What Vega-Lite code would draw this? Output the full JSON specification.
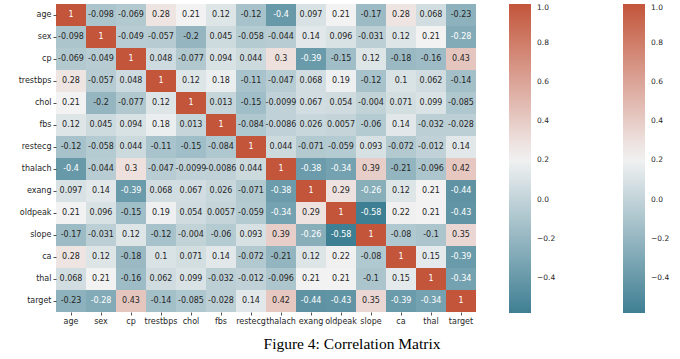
{
  "$schema": "https://vega.github.io/schema/vega-lite/v6.json",
  "width": 420,
  "height": 308,
  "autosize": {"type": "none"},
  "padding": {"left": 56, "top": 4, "right": 204, "bottom": 47},
  "background": "white",
  "config": {
    "view": {"stroke": null},
    "axis": {"domain": false, "ticks": true, "tickSize": 3, "tickColor": "#262626", "tickWidth": 0.8, "labelFont": "DejaVu Sans", "labelFontSize": 8, "labelColor": "#262626", "labelPadding": 2, "title": null},
    "legend": {"labelFont": "DejaVu Sans", "labelFontSize": 7.5, "labelColor": "#262626"}
  },
  "title": {"text": "Figure 4: Correlation Matrix", "orient": "bottom", "anchor": "middle", "font": "Liberation Serif", "fontSize": 15.5, "fontWeight": "normal", "color": "#000000", "dx": 86, "offset": 12},
  "data": {"values": [
    {"r":"age","c":"age","v":1},{"r":"age","c":"sex","v":-0.098},{"r":"age","c":"cp","v":-0.069},{"r":"age","c":"trestbps","v":0.28},{"r":"age","c":"chol","v":0.21},{"r":"age","c":"fbs","v":0.12},{"r":"age","c":"restecg","v":-0.12},{"r":"age","c":"thalach","v":-0.4},{"r":"age","c":"exang","v":0.097},{"r":"age","c":"oldpeak","v":0.21},{"r":"age","c":"slope","v":-0.17},{"r":"age","c":"ca","v":0.28},{"r":"age","c":"thal","v":0.068},{"r":"age","c":"target","v":-0.23},
    {"r":"sex","c":"age","v":-0.098},{"r":"sex","c":"sex","v":1},{"r":"sex","c":"cp","v":-0.049},{"r":"sex","c":"trestbps","v":-0.057},{"r":"sex","c":"chol","v":-0.2},{"r":"sex","c":"fbs","v":0.045},{"r":"sex","c":"restecg","v":-0.058},{"r":"sex","c":"thalach","v":-0.044},{"r":"sex","c":"exang","v":0.14},{"r":"sex","c":"oldpeak","v":0.096},{"r":"sex","c":"slope","v":-0.031},{"r":"sex","c":"ca","v":0.12},{"r":"sex","c":"thal","v":0.21},{"r":"sex","c":"target","v":-0.28},
    {"r":"cp","c":"age","v":-0.069},{"r":"cp","c":"sex","v":-0.049},{"r":"cp","c":"cp","v":1},{"r":"cp","c":"trestbps","v":0.048},{"r":"cp","c":"chol","v":-0.077},{"r":"cp","c":"fbs","v":0.094},{"r":"cp","c":"restecg","v":0.044},{"r":"cp","c":"thalach","v":0.3},{"r":"cp","c":"exang","v":-0.39},{"r":"cp","c":"oldpeak","v":-0.15},{"r":"cp","c":"slope","v":0.12},{"r":"cp","c":"ca","v":-0.18},{"r":"cp","c":"thal","v":-0.16},{"r":"cp","c":"target","v":0.43},
    {"r":"trestbps","c":"age","v":0.28},{"r":"trestbps","c":"sex","v":-0.057},{"r":"trestbps","c":"cp","v":0.048},{"r":"trestbps","c":"trestbps","v":1},{"r":"trestbps","c":"chol","v":0.12},{"r":"trestbps","c":"fbs","v":0.18},{"r":"trestbps","c":"restecg","v":-0.11},{"r":"trestbps","c":"thalach","v":-0.047},{"r":"trestbps","c":"exang","v":0.068},{"r":"trestbps","c":"oldpeak","v":0.19},{"r":"trestbps","c":"slope","v":-0.12},{"r":"trestbps","c":"ca","v":0.1},{"r":"trestbps","c":"thal","v":0.062},{"r":"trestbps","c":"target","v":-0.14},
    {"r":"chol","c":"age","v":0.21},{"r":"chol","c":"sex","v":-0.2},{"r":"chol","c":"cp","v":-0.077},{"r":"chol","c":"trestbps","v":0.12},{"r":"chol","c":"chol","v":1},{"r":"chol","c":"fbs","v":0.013},{"r":"chol","c":"restecg","v":-0.15},{"r":"chol","c":"thalach","v":-0.0099},{"r":"chol","c":"exang","v":0.067},{"r":"chol","c":"oldpeak","v":0.054},{"r":"chol","c":"slope","v":-0.004},{"r":"chol","c":"ca","v":0.071},{"r":"chol","c":"thal","v":0.099},{"r":"chol","c":"target","v":-0.085},
    {"r":"fbs","c":"age","v":0.12},{"r":"fbs","c":"sex","v":0.045},{"r":"fbs","c":"cp","v":0.094},{"r":"fbs","c":"trestbps","v":0.18},{"r":"fbs","c":"chol","v":0.013},{"r":"fbs","c":"fbs","v":1},{"r":"fbs","c":"restecg","v":-0.084},{"r":"fbs","c":"thalach","v":-0.0086},{"r":"fbs","c":"exang","v":0.026},{"r":"fbs","c":"oldpeak","v":0.0057},{"r":"fbs","c":"slope","v":-0.06},{"r":"fbs","c":"ca","v":0.14},{"r":"fbs","c":"thal","v":-0.032},{"r":"fbs","c":"target","v":-0.028},
    {"r":"restecg","c":"age","v":-0.12},{"r":"restecg","c":"sex","v":-0.058},{"r":"restecg","c":"cp","v":0.044},{"r":"restecg","c":"trestbps","v":-0.11},{"r":"restecg","c":"chol","v":-0.15},{"r":"restecg","c":"fbs","v":-0.084},{"r":"restecg","c":"restecg","v":1},{"r":"restecg","c":"thalach","v":0.044},{"r":"restecg","c":"exang","v":-0.071},{"r":"restecg","c":"oldpeak","v":-0.059},{"r":"restecg","c":"slope","v":0.093},{"r":"restecg","c":"ca","v":-0.072},{"r":"restecg","c":"thal","v":-0.012},{"r":"restecg","c":"target","v":0.14},
    {"r":"thalach","c":"age","v":-0.4},{"r":"thalach","c":"sex","v":-0.044},{"r":"thalach","c":"cp","v":0.3},{"r":"thalach","c":"trestbps","v":-0.047},{"r":"thalach","c":"chol","v":-0.0099},{"r":"thalach","c":"fbs","v":-0.0086},{"r":"thalach","c":"restecg","v":0.044},{"r":"thalach","c":"thalach","v":1},{"r":"thalach","c":"exang","v":-0.38},{"r":"thalach","c":"oldpeak","v":-0.34},{"r":"thalach","c":"slope","v":0.39},{"r":"thalach","c":"ca","v":-0.21},{"r":"thalach","c":"thal","v":-0.096},{"r":"thalach","c":"target","v":0.42},
    {"r":"exang","c":"age","v":0.097},{"r":"exang","c":"sex","v":0.14},{"r":"exang","c":"cp","v":-0.39},{"r":"exang","c":"trestbps","v":0.068},{"r":"exang","c":"chol","v":0.067},{"r":"exang","c":"fbs","v":0.026},{"r":"exang","c":"restecg","v":-0.071},{"r":"exang","c":"thalach","v":-0.38},{"r":"exang","c":"exang","v":1},{"r":"exang","c":"oldpeak","v":0.29},{"r":"exang","c":"slope","v":-0.26},{"r":"exang","c":"ca","v":0.12},{"r":"exang","c":"thal","v":0.21},{"r":"exang","c":"target","v":-0.44},
    {"r":"oldpeak","c":"age","v":0.21},{"r":"oldpeak","c":"sex","v":0.096},{"r":"oldpeak","c":"cp","v":-0.15},{"r":"oldpeak","c":"trestbps","v":0.19},{"r":"oldpeak","c":"chol","v":0.054},{"r":"oldpeak","c":"fbs","v":0.0057},{"r":"oldpeak","c":"restecg","v":-0.059},{"r":"oldpeak","c":"thalach","v":-0.34},{"r":"oldpeak","c":"exang","v":0.29},{"r":"oldpeak","c":"oldpeak","v":1},{"r":"oldpeak","c":"slope","v":-0.58},{"r":"oldpeak","c":"ca","v":0.22},{"r":"oldpeak","c":"thal","v":0.21},{"r":"oldpeak","c":"target","v":-0.43},
    {"r":"slope","c":"age","v":-0.17},{"r":"slope","c":"sex","v":-0.031},{"r":"slope","c":"cp","v":0.12},{"r":"slope","c":"trestbps","v":-0.12},{"r":"slope","c":"chol","v":-0.004},{"r":"slope","c":"fbs","v":-0.06},{"r":"slope","c":"restecg","v":0.093},{"r":"slope","c":"thalach","v":0.39},{"r":"slope","c":"exang","v":-0.26},{"r":"slope","c":"oldpeak","v":-0.58},{"r":"slope","c":"slope","v":1},{"r":"slope","c":"ca","v":-0.08},{"r":"slope","c":"thal","v":-0.1},{"r":"slope","c":"target","v":0.35},
    {"r":"ca","c":"age","v":0.28},{"r":"ca","c":"sex","v":0.12},{"r":"ca","c":"cp","v":-0.18},{"r":"ca","c":"trestbps","v":0.1},{"r":"ca","c":"chol","v":0.071},{"r":"ca","c":"fbs","v":0.14},{"r":"ca","c":"restecg","v":-0.072},{"r":"ca","c":"thalach","v":-0.21},{"r":"ca","c":"exang","v":0.12},{"r":"ca","c":"oldpeak","v":0.22},{"r":"ca","c":"slope","v":-0.08},{"r":"ca","c":"ca","v":1},{"r":"ca","c":"thal","v":0.15},{"r":"ca","c":"target","v":-0.39},
    {"r":"thal","c":"age","v":0.068},{"r":"thal","c":"sex","v":0.21},{"r":"thal","c":"cp","v":-0.16},{"r":"thal","c":"trestbps","v":0.062},{"r":"thal","c":"chol","v":0.099},{"r":"thal","c":"fbs","v":-0.032},{"r":"thal","c":"restecg","v":-0.012},{"r":"thal","c":"thalach","v":-0.096},{"r":"thal","c":"exang","v":0.21},{"r":"thal","c":"oldpeak","v":0.21},{"r":"thal","c":"slope","v":-0.1},{"r":"thal","c":"ca","v":0.15},{"r":"thal","c":"thal","v":1},{"r":"thal","c":"target","v":-0.34},
    {"r":"target","c":"age","v":-0.23},{"r":"target","c":"sex","v":-0.28},{"r":"target","c":"cp","v":0.43},{"r":"target","c":"trestbps","v":-0.14},{"r":"target","c":"chol","v":-0.085},{"r":"target","c":"fbs","v":-0.028},{"r":"target","c":"restecg","v":0.14},{"r":"target","c":"thalach","v":0.42},{"r":"target","c":"exang","v":-0.44},{"r":"target","c":"oldpeak","v":-0.43},{"r":"target","c":"slope","v":0.35},{"r":"target","c":"ca","v":-0.39},{"r":"target","c":"thal","v":-0.34},{"r":"target","c":"target","v":1}
  ]},
  "encoding": {
    "x": {"field": "c", "type": "nominal", "sort": ["age","sex","cp","trestbps","chol","fbs","restecg","thalach","exang","oldpeak","slope","ca","thal","target"], "scale": {"paddingInner": 0, "paddingOuter": 0}, "axis": {"orient": "bottom", "labelAngle": 0}},
    "y": {"field": "r", "type": "nominal", "sort": ["age","sex","cp","trestbps","chol","fbs","restecg","thalach","exang","oldpeak","slope","ca","thal","target"], "scale": {"paddingInner": 0, "paddingOuter": 0}}
  },
  "layer": [
    {
      "mark": {"type": "rect"},
      "encoding": {
        "color": {"field": "v", "type": "quantitative",
          "scale": {"domain": [-0.58, 0.21, 1], "range": ["#3f7f93", "#f2f2f2", "#c3553b"], "interpolate": "rgb"},
          "legend": {"title": null, "orient": "none", "legendX": 453, "legendY": 0, "direction": "vertical", "gradientLength": 309, "gradientThickness": 22, "gradientStrokeWidth": 0, "values": [-0.4, -0.2, 0, 0.2, 0.4, 0.6, 0.8, 1], "format": ".1f", "labelOverlap": false, "labelOffset": 6}}
      }
    },
    {
      "mark": {"type": "rect", "opacity": 0},
      "encoding": {
        "color": {"field": "v", "type": "quantitative",
          "scale": {"domain": [-0.58, 0.21, 1], "range": ["#3f7f93", "#f2f2f2", "#c3553b"], "interpolate": "rgb"},
          "legend": {"title": null, "orient": "none", "legendX": 567, "legendY": 0, "direction": "vertical", "gradientLength": 309, "gradientThickness": 22, "gradientStrokeWidth": 0, "values": [-0.4, -0.2, 0, 0.2, 0.4, 0.6, 0.8, 1], "format": ".1f", "labelOverlap": false, "labelOffset": 6}}
      }
    },
    {
      "mark": {"type": "text", "font": "DejaVu Sans", "fontSize": 8},
      "encoding": {
        "text": {"field": "v", "type": "nominal"},
        "color": {"condition": {"test": "datum.v <= -0.25 || datum.v >= 0.99", "value": "#ffffff"}, "value": "#262626"}
      }
    }
  ],
  "resolve": {"scale": {"color": "independent"}}
}
